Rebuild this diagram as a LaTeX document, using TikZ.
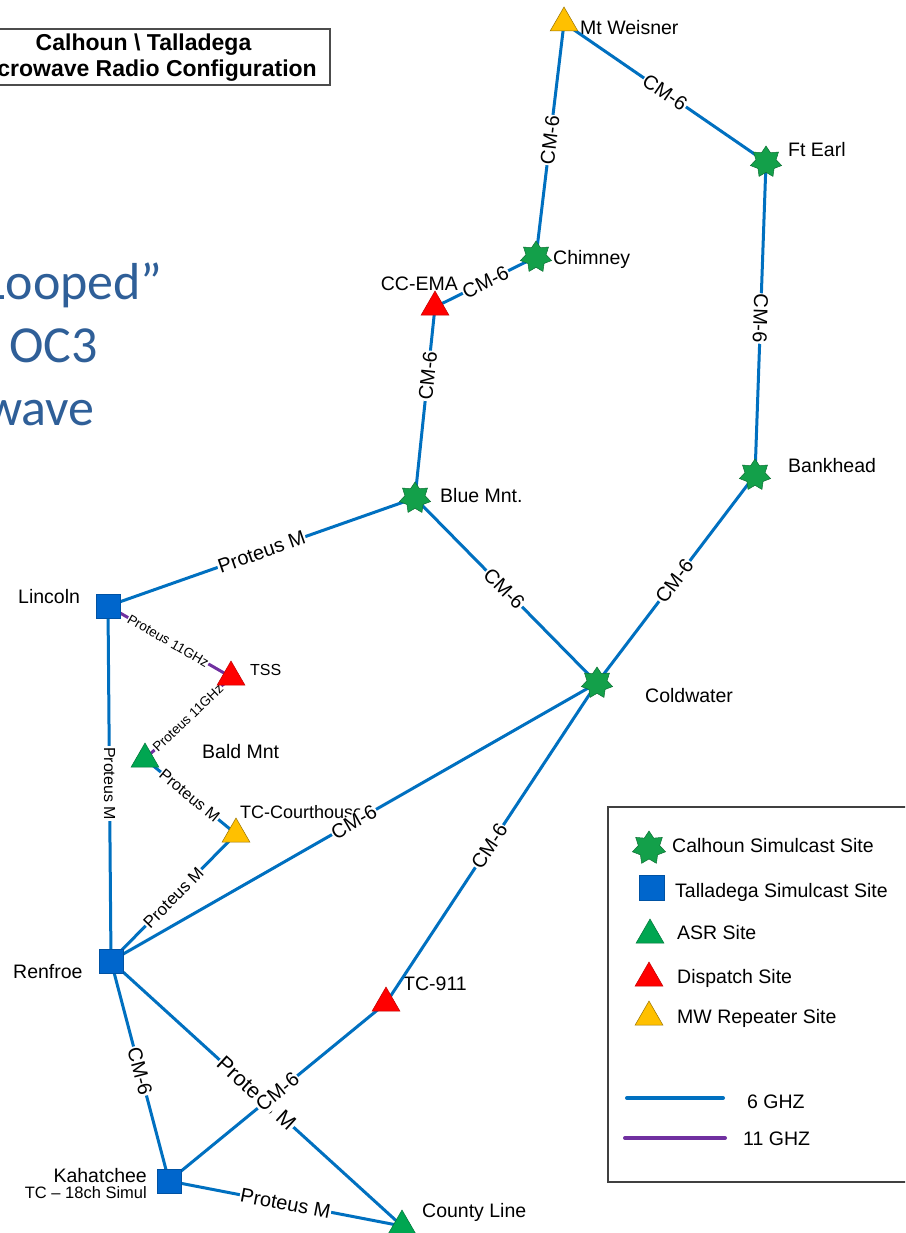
\documentclass[tikz,border=0pt]{standalone}
\usepackage{fontspec}
\setmainfont{Liberation Sans}
\newfontfamily\calib{Carlito}
\usetikzlibrary{shapes.geometric,backgrounds}
\definecolor{lnblue}{HTML}{0070C0}
\definecolor{lnpurple}{HTML}{7030A0}
\definecolor{sqblue}{HTML}{0066CC}
\definecolor{stargreen}{HTML}{13A04A}
\definecolor{asrgreen}{HTML}{00A651}
\definecolor{mwyellow}{HTML}{FFC000}
\definecolor{bigblue}{HTML}{2F5F98}
\begin{document}
\begin{tikzpicture}[x=1pt,y=-1pt,
  starsite/.style={star, star points=7, star point ratio=1.55, minimum size=32pt, inner sep=0pt, fill=stargreen, draw=stargreen!70!black, line width=0.5pt},
  sqsite/.style={rectangle, minimum size=24pt, inner sep=0pt, fill=sqblue, draw=sqblue!80!black, line width=0.4pt},
  trisite/.style={regular polygon, regular polygon sides=3, minimum size=32pt, inner sep=0pt, line width=0.5pt},
  asr/.style={trisite, fill=asrgreen, draw=asrgreen!70!black},
  disp/.style={trisite, fill=red, draw=red!75!black},
  mwr/.style={trisite, fill=mwyellow, draw=mwyellow!60!black},
  link/.style={draw=lnblue, line width=3pt},
  linkp/.style={draw=lnpurple, line width=3pt},
  elab/.style={fill=white, inner sep=0.8pt, font=\fontsize{20}{22}\selectfont},
  elabs/.style={fill=white, inner sep=0.6pt, font=\fontsize{16}{18}\selectfont},
  elabxs/.style={fill=white, inner sep=0.5pt, font=\fontsize{13.5}{15}\selectfont},
  sitelbl/.style={inner sep=0pt, anchor=base west, font=\fontsize{19.5}{22}\selectfont},
  leglbl/.style={inner sep=0pt, anchor=base west, font=\fontsize{19.5}{22}\selectfont},
]
\useasboundingbox (0,0) rectangle (905,1233);
\clip (0,0) rectangle (905,1233);

% title box
\draw[line width=1.2pt, black!70] (-50,29) rectangle (330,85);
\node[inner sep=0pt, anchor=base, font=\bfseries\fontsize{23}{25}\selectfont] (t1) at (143.5,51) {Calhoun \textbackslash\ Talladega};
\node[inner sep=0pt, anchor=base east, font=\bfseries\fontsize{23}{25}\selectfont] (t2) at (317,77) {crowave Radio Configuration};

% big blue text
\node[inner sep=0pt, anchor=base east, text=bigblue, font=\calib\fontsize{52}{60}\selectfont] (b1) at (163,299) {Looped”};
\node[inner sep=0pt, anchor=base east, text=bigblue, font=\calib\fontsize{52}{60}\selectfont] (b2) at (98,362) {OC3};
\node[inner sep=0pt, anchor=base east, text=bigblue, font=\calib\fontsize{52}{60}\selectfont] (b3) at (95,425) {wave};

% sites
\node[mwr] (mtw) at (564,23) {};
\node[starsite] (ftearl) at (766,162) {};
\node[starsite] (chim) at (536,257) {};
\node[disp] (ccema) at (435,307) {};
\node[starsite] (blue) at (415,498) {};
\node[starsite] (cold) at (597,683) {};
\node[starsite] (bank) at (755,475) {};
\node[sqsite] (lincoln) at (108,606) {};
\node[disp] (tss) at (231,677) {};
\node[asr] (bald) at (145,759) {};
\node[mwr] (tcc) at (236,834) {};
\node[sqsite] (renfroe) at (111,961) {};
\node[sqsite] (kah) at (169,1181) {};
\node[disp] (tc911) at (386,1003) {};
\node[asr] (county) at (402,1226) {};

\begin{pgfonlayer}{background}
\fill[white] (0,0) rectangle (905,1233);
% site labels
\node[sitelbl] (lmtw) at (580,35) {Mt Weisner};
\node[sitelbl] (lftearl) at (788,157) {Ft Earl};
\node[sitelbl] (lchim) at (553,264) {Chimney};
\node[sitelbl, anchor=base east] (lccema) at (458,290) {CC-EMA};
\node[sitelbl] (lblue) at (440,502) {Blue Mnt.};
\node[sitelbl] (lcold) at (645,702) {Coldwater};
\node[sitelbl] (lbank) at (788,472) {Bankhead};
\node[sitelbl] (llincoln) at (18,603) {Lincoln};
\node[sitelbl, font=\fontsize{16}{18}\selectfont] (ltss) at (250,675) {TSS};
\node[sitelbl] (lbald) at (202,758) {Bald Mnt};
\node[sitelbl, font=\fontsize{18}{20}\selectfont] (ltcc) at (240,818) {TC-Courthouse};
\node[sitelbl] (lrenfroe) at (13,978) {Renfroe};
\node[sitelbl, anchor=base east] (lkah) at (147,1182) {Kahatchee};
\node[sitelbl, anchor=base east, font=\fontsize{16.5}{18}\selectfont] (lkah2) at (147,1198) {TC – 18ch Simul};
\node[sitelbl] (ltc911) at (403,990) {TC-911};
\node[sitelbl] (lcounty) at (422,1217) {County Line};

% links
\draw[link] (chim.center) -- node[elab, sloped, pos=0.5] {CM-6} (mtw.center);
\draw[link] (mtw.center) -- node[elab, sloped, pos=0.5] {CM-6} (ftearl.center);
\draw[link] (ftearl.center) -- node[elab, rotate=-92, pos=0.5] {CM-6} (bank.center);
\draw[link] (ccema.center) -- node[elab, sloped, pos=0.5] {CM-6} (chim.center);
\draw[link] (blue.center) -- node[elab, sloped, pos=0.64] {CM-6} (ccema.center);
\draw[link] (lincoln.center) -- node[elab, sloped, pos=0.5] {Proteus M} (blue.center);
\draw[link] (blue.center) -- node[elab, sloped, pos=0.49] {CM-6} (cold.center);
\draw[link] (cold.center) -- node[elab, sloped, pos=0.49] {CM-6} (bank.center);
\draw[link] (renfroe.center) -- node[elab, sloped, pos=0.5] {CM-6} (cold.center);
\draw[link] (tc911.center) -- node[elab, sloped, pos=0.49] {CM-6} (cold.center);
\draw[linkp] (lincoln.center) -- node[elabxs, sloped, pos=0.49] {Proteus 11GHz} (tss.center);
\draw[linkp] (bald.center) -- node[elabxs, sloped, pos=0.5] {Proteus 11GHz} (tss.center);
\draw[link] (bald.center) -- node[elabs, sloped, pos=0.49] {Proteus M} (tcc.center);
\draw[link] (renfroe.center) -- node[elab, sloped, pos=0.5, font=\fontsize{17}{19}\selectfont] {Proteus M} (tcc.center);
\draw[link] (lincoln.center) -- node[elabs, rotate=-90, pos=0.5] {Proteus M} (renfroe.center);
\draw[link] (renfroe.center) -- node[elab, sloped, pos=0.5] {CM-6} (kah.center);
\draw[link] (renfroe.center) -- node[elab, sloped, pos=0.5, font=\fontsize{21.5}{23}\selectfont] {Proteus M} (county.center);
\draw[link] (kah.center) -- node[elab, sloped, pos=0.5, inner xsep=1pt, inner ysep=4pt] {CM-6} (tc911.center);
\draw[link] (kah.center) -- node[elab, sloped, pos=0.5] {Proteus M} (county.center);
\end{pgfonlayer}

% legend
\draw[line width=1.2pt, black!75] (608,807) rectangle (930,1182);
\node[starsite, minimum size=34pt] (lg1) at (649,848) {};
\node[sqsite, minimum size=25pt] (lg2) at (652,888) {};
\node[asr] (lg3) at (650,935) {};
\node[disp] (lg4) at (649,978) {};
\node[mwr] (lg5) at (649,1017) {};
\node[leglbl] (lt1) at (672,852) {Calhoun Simulcast Site};
\node[leglbl] (lt2) at (675,897) {Talladega Simulcast Site};
\node[leglbl] (lt3) at (677,939) {ASR Site};
\node[leglbl] (lt4) at (677,983) {Dispatch Site};
\node[leglbl] (lt5) at (677,1023) {MW Repeater Site};
\coordinate (lga) at (627,1098);
\coordinate (lgb) at (723,1098);
\coordinate (lgc) at (625,1138);
\coordinate (lgd) at (725,1138);
\draw[draw=lnblue, line width=4pt, line cap=round] (lga) -- (lgb);
\draw[draw=lnpurple, line width=4pt, line cap=round] (lgc) -- (lgd);
\node[leglbl] (lt6) at (747,1108) {6 GHZ};
\node[leglbl] (lt7) at (743,1145) {11 GHZ};
\end{tikzpicture}
\end{document}
